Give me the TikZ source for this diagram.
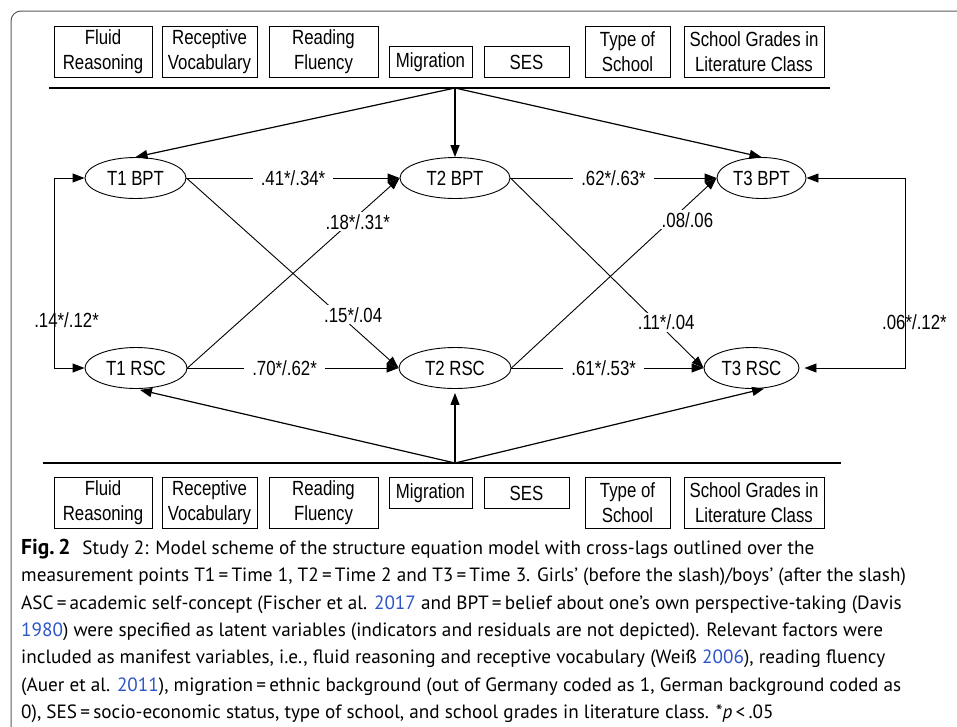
\documentclass[tikz,border=0pt]{standalone}
\usepackage{fontspec}
\setmainfont{Liberation Sans}
\newfontfamily\diagfont[FakeStretch=0.82]{Liberation Sans}
\newfontfamily\capfont{PT Sans}
\usetikzlibrary{arrows.meta,shapes.geometric}
\definecolor{framegray}{RGB}{90,90,90}
\definecolor{citeblue}{RGB}{45,85,200}
\newcommand{\yr}[1]{\textcolor{citeblue}{#1}}

\begin{document}
\begin{tikzpicture}[x=1pt, y=-1pt,
            every node/.style={font=\diagfont\fontsize{20.5}{25}\selectfont},
            varbox/.style={draw, line width=0.9pt, align=center, inner sep=0pt},
            latent/.style={draw, ellipse, line width=0.9pt, inner sep=0pt, minimum height=41pt},
            effect/.style={-{Triangle[length=12pt,width=9pt]}, line width=0.9pt},
            twoway/.style={{Triangle[length=12pt,width=9pt]}-{Triangle[length=12pt,width=9pt]}, line width=0.9pt},
            coef/.style={fill=white, inner xsep=8pt, inner ysep=2pt}]
        \useasboundingbox (0,0) rectangle (957,726);
        % frame
        \draw[framegray, line width=1pt, rounded corners=10pt] (11,760) -- (11,11) -- (990,11);

        % manifest variables, above and below
        \foreach \name/\x/\w/\h/\txt in {fr/103/98/51/{Fluid\\Reasoning},
                                         rv/209.5/95/51/{Receptive\\Vocabulary},
                                         rf/323.5/109/51/{Reading\\Fluency},
                                         mig/430.5/83/31/{Migration},
                                         ses/526.5/85/31/{SES},
                                         tos/627.5/85/51/{Type of\\School},
                                         sgl/754/140/51/{School Grades in\\Literature Class}}{
            \node[varbox, minimum width=\w pt, minimum height=\h pt, anchor=south] (top\name) at (\x,78) {\txt};
            \node[varbox, minimum width=\w pt, minimum height=\h pt, anchor=north] (bot\name) at (\x,477) {\txt};
        }

        \coordinate (topL) at (49,88);
        \coordinate (topR) at (830,88);
        \coordinate (topapex) at (455,88);
        \coordinate (botL) at (43,463);
        \coordinate (botR) at (841,463);
        \coordinate (botapex) at (455,463);
        \draw[line width=1.2pt] (topL) -- (topR);
        \draw[line width=1.2pt] (botL) -- (botR);

        % latent variables
        \node[latent, minimum width=101pt] (t1bpt) at (135.5,178) {T1 BPT};
        \node[latent, minimum width=110pt] (t2bpt) at (455,178) {T2 BPT};
        \node[latent, minimum width=89pt] (t3bpt) at (761.5,178) {T3 BPT};
        \node[latent, minimum width=102pt] (t1rsc) at (136,368) {T1 RSC};
        \node[latent, minimum width=112pt] (t2rsc) at (455,368) {T2 RSC};
        \node[latent, minimum width=95pt] (t3rsc) at (751.5,368) {T3 RSC};

        % controls
        \foreach \t in {t1bpt,t2bpt,t3bpt}
            \draw[effect, line width=1.2pt] (topapex) -- (\t.north);
        \draw[effect, line width=1.2pt, shorten >=4pt] (botapex) -- (t1rsc.south);
        \draw[effect, line width=1.2pt, shorten >=4pt] (botapex) -- (t2rsc.south);
        \draw[effect, line width=1.2pt, shorten >=4pt] (botapex) -- (t3rsc.-50);

        % autoregressive paths
        \draw[effect] (t1bpt) -- node[coef] {.41*/.34*} (t2bpt);
        \draw[effect] (t2bpt) -- node[coef] {.62*/.63*} (t3bpt);
        \draw[effect] (t1rsc) -- node[coef, pos=0.46] {.70*/.62*} (t2rsc);
        \draw[effect] (t2rsc) -- node[coef, pos=0.48] {.61*/.53*} (t3rsc);

        % cross-lags
        \draw[effect] (t1bpt.east) -- node[coef, inner xsep=1pt, pos=0.72, xshift=14pt] {.15*/.04} (t2rsc.west);
        \draw[effect] (t1rsc.east) -- node[coef, inner xsep=1pt, pos=0.77, xshift=7pt] {.18*/.31*} (t2bpt.west);
        \draw[effect] (t2bpt.east) -- node[coef, inner xsep=1pt, pos=0.76, xshift=9pt] {.11*/.04} (t3rsc.west);
        \draw[effect] (t2rsc.east) -- node[coef, inner xsep=1pt, pos=0.78, xshift=16pt] {.08/.06} (t3bpt.west);

        % correlations
        \draw[twoway] (t1bpt.west) -- ++(-30,0) |- node[pos=0.374, xshift=12pt] {.14*/.12*} (t1rsc.west);
        \draw[twoway, shorten >=5pt] (t3bpt.east) -- ++(99,0) |- node[pos=0.379, xshift=9pt] {.06*/.12*} (t3rsc.east);

        % caption
        \node[anchor=north west, align=left, inner sep=0pt,
              font=\capfont\fontsize{19.2}{27.3}\selectfont] (caption) at (21,539)
            {{\bfseries\fontsize{21.5}{27.3}\selectfont Fig.\,2}\hspace{12pt}Study 2: Model scheme of the structure equation model with cross-lags outlined over the\\
             measurement points T1\,=\,Time 1, T2\,=\,Time 2 and T3\,=\,Time 3. Girls’ (before the slash)/boys’ (after the slash)\\
             ASC\,=\,academic self-concept (Fischer et al. \yr{2017} and BPT\,=\,belief about one’s own perspective-taking (Davis\\
             \yr{1980}) were specified as latent variables (indicators and residuals are not depicted). Relevant factors were\\
             included as manifest variables, i.e., fluid reasoning and receptive vocabulary (Weiß \yr{2006}), reading fluency\\
             (Auer et al. \yr{2011}), migration\,=\,ethnic background (out of Germany coded as 1, German background coded as\\
             0), SES\,=\,socio-economic status, type of school, and school grades in literature class. *\textit{p}\,<\,.05};
\end{tikzpicture}
\end{document}
